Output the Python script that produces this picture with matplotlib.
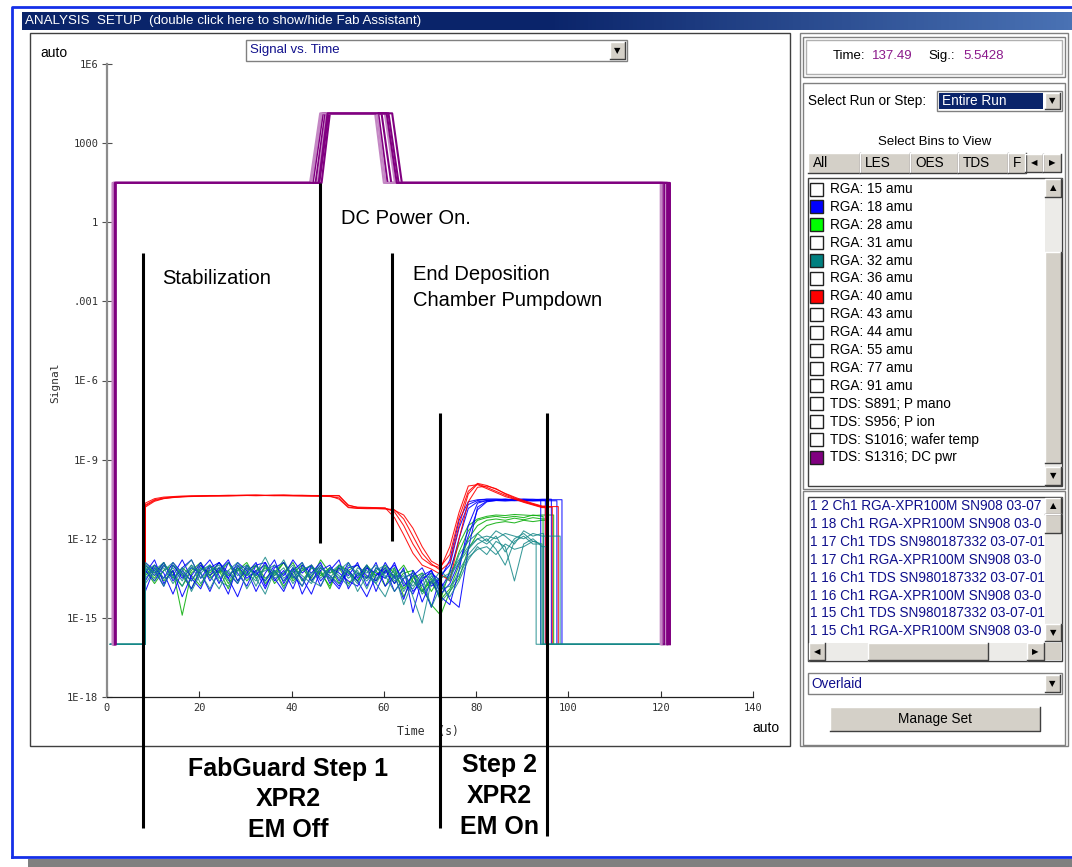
import numpy as np
import matplotlib
matplotlib.use('Agg')
import matplotlib.pyplot as plt
from matplotlib.patches import Rectangle
from matplotlib.lines import Line2D
from matplotlib.colors import LinearSegmentedColormap
from matplotlib.ticker import NullLocator
from matplotlib.transforms import blended_transform_factory

plt.rcParams['font.family'] = ['Liberation Sans', 'DejaVu Sans']

# ---------------- data: log10(signal), one sample every 2 s ----------------
time_s = np.arange(8.3, 95, 2.0)          # 8.3 ... 94.3 s (44 samples)
floor_log = -16.0                         # value plotted when a bin has no data

# RGA 40 amu (red)
red_1 = [-10.72, -10.52, -10.45, -10.42, -10.40, -10.39, -10.38, -10.38, -10.37, -10.37, -10.36,
         -10.36, -10.35, -10.36, -10.36, -10.35, -10.36, -10.36, -10.37, -10.37, -10.37, -10.38,
         -10.72, -10.82, -10.83, -10.83, -10.84, -10.98, -11.50, -12.20, -12.75, -13.00, -13.10,
         -12.30, -11.00, -10.00, -9.95, -10.10, -10.25, -10.40, -10.50, -10.62, -10.72, -10.82]
red_2 = [-10.80, -10.58, -10.48, -10.44, -10.41, -10.40, -10.39, -10.38, -10.38, -10.37, -10.37,
         -10.36, -10.37, -10.36, -10.37, -10.36, -10.37, -10.38, -10.38, -10.39, -10.40, -10.45,
         -10.80, -10.84, -10.84, -10.85, -10.86, -10.90, -11.25, -11.90, -12.55, -12.95, -13.20,
         -12.90, -11.50, -10.30, -9.92, -10.05, -10.20, -10.35, -10.48, -10.60, -10.70, -10.80]
red_3 = [-10.65, -10.48, -10.42, -10.40, -10.38, -10.37, -10.37, -10.36, -10.36, -10.35, -10.35,
         -10.34, -10.34, -10.35, -10.34, -10.34, -10.35, -10.35, -10.36, -10.36, -10.36, -10.36,
         -10.74, -10.80, -10.81, -10.82, -10.83, -11.20, -11.85, -12.55, -13.00, -13.15, -13.35,
         -13.60, -12.00, -10.60, -10.05, -10.00, -10.10, -10.30, -10.45, -10.58, -10.68, -10.78]
red_4 = [-10.75, -10.55, -10.47, -10.43, -10.41, -10.39, -10.38, -10.37, -10.37, -10.37, -10.36,
         -10.36, -10.36, -10.36, -10.36, -10.37, -10.37, -10.37, -10.38, -10.38, -10.38, -10.50,
         -10.82, -10.85, -10.86, -10.86, -10.87, -10.92, -11.10, -11.60, -12.30, -12.85, -13.05,
         -12.60, -11.20, -10.20, -9.90, -9.98, -10.12, -10.28, -10.42, -10.55, -10.66, -10.76]
red_runs = [red_1, red_2, red_3, red_4]
red_end = [95.5, 96.5, 97.8, 95.0]

# RGA 18 amu (blue)
blue_1 = [-13.0, -13.4, -12.9, -13.6, -13.1, -12.8, -13.5, -13.0, -13.7, -12.9, -13.3,
          -13.8, -13.0, -12.9, -13.6, -13.2, -13.9, -13.0, -13.3, -12.9, -13.7, -13.1,
          -13.4, -12.9, -13.8, -13.1, -13.3, -13.0, -13.6, -14.1, -13.4, -13.2, -13.9,
          -13.3, -12.0, -10.85, -10.6, -10.55, -10.55, -10.52, -10.55, -10.53, -10.55, -10.56]
blue_2 = [-13.3, -12.8, -13.7, -13.2, -14.2, -13.4, -12.9, -13.6, -13.1, -13.5, -12.9,
          -13.2, -14.0, -13.3, -12.8, -13.7, -13.1, -13.5, -14.1, -13.2, -13.0, -13.6,
          -12.9, -13.5, -13.0, -14.0, -13.2, -13.7, -13.1, -14.8, -13.5, -13.3, -13.6,
          -14.3, -14.6, -12.4, -10.8, -10.58, -10.55, -10.57, -10.54, -10.56, -10.55, -10.55]
blue_3 = [-14.0, -13.1, -13.5, -12.9, -13.3, -13.9, -13.2, -12.8, -13.4, -14.1, -13.0,
          -13.5, -13.2, -13.9, -13.1, -12.9, -13.4, -13.8, -13.0, -13.6, -13.2, -12.8,
          -13.9, -13.3, -13.5, -12.9, -13.8, -13.4, -14.3, -13.2, -13.7, -14.6, -13.4,
          -13.0, -11.6, -10.7, -10.55, -10.5, -10.5, -10.52, -10.5, -10.5, -10.52, -10.5]
blue_4 = [-13.2, -13.6, -13.0, -13.4, -12.8, -13.5, -13.9, -13.1, -12.9, -13.3, -13.7,
          -13.0, -13.4, -12.9, -13.5, -14.0, -13.2, -12.9, -13.6, -13.1, -13.4, -13.8,
          -13.1, -13.0, -13.4, -13.6, -12.9, -13.5, -13.2, -14.0, -13.6, -13.2, -14.1,
          -13.7, -12.9, -11.9, -10.9, -10.6, -10.55, -10.55, -10.56, -10.55, -10.57, -10.56]
blue_5 = [-12.9, -13.2, -13.8, -13.0, -13.5, -13.1, -13.3, -14.0, -13.2, -12.8, -13.6,
          -13.1, -13.3, -13.6, -13.0, -13.4, -12.8, -13.3, -13.0, -13.8, -13.1, -13.3,
          -13.6, -13.8, -13.1, -13.3, -13.5, -12.9, -13.8, -13.4, -13.1, -13.8, -13.5,
          -12.8, -11.3, -10.6, -10.52, -10.5, -10.5, -10.5, -10.52, -10.5, -10.5, -10.52]
blue_6 = [-13.6, -13.0, -13.3, -14.1, -13.2, -13.6, -13.0, -13.4, -12.9, -13.5, -14.2,
          -13.3, -12.9, -13.8, -13.2, -13.6, -13.1, -14.1, -13.4, -13.0, -13.5, -13.9,
          -13.2, -13.6, -14.2, -13.4, -13.1, -14.0, -13.5, -13.3, -14.4, -13.6, -14.2,
          -14.5, -13.2, -11.5, -10.65, -10.55, -10.53, -10.5, -10.53, -10.52, -10.54, -10.53]
blue_runs = [blue_1, blue_2, blue_3, blue_4, blue_5, blue_6]
blue_end = [94.0, 95.0, 96.3, 97.5, 98.6, 95.6]

# RGA 28 amu (green)
green_1 = [-13.1, -13.5, -13.0, -13.3, -13.8, -13.2, -12.9, -13.4, -13.1, -13.7, -13.2,
           -12.9, -13.5, -13.1, -13.4, -12.9, -13.6, -13.2, -13.0, -13.4, -13.1, -13.7,
           -13.2, -13.0, -13.5, -13.2, -13.8, -13.1, -14.2, -13.5, -13.3, -14.0, -13.4,
           -13.5, -12.5, -11.7, -11.3, -11.2, -11.15, -11.2, -11.15, -11.2, -11.1, -11.15]
green_2 = [-13.4, -13.0, -13.6, -13.2, -14.9, -13.3, -13.0, -13.5, -13.2, -13.9, -13.1,
           -13.4, -13.0, -13.7, -13.3, -12.9, -13.5, -13.1, -13.6, -13.2, -13.9, -13.0,
           -13.3, -13.6, -13.1, -13.4, -13.0, -13.3, -13.9, -13.4, -14.0, -13.5, -14.3,
           -13.9, -13.0, -12.0, -11.5, -11.3, -11.25, -11.3, -11.22, -11.28, -11.2, -11.25]
green_3 = [-13.0, -13.3, -12.9, -13.5, -13.1, -13.4, -13.8, -13.0, -13.3, -12.9, -13.6,
           -13.2, -13.0, -13.5, -13.2, -13.8, -13.3, -13.0, -13.5, -12.8, -13.3, -13.1,
           -13.7, -13.4, -13.0, -13.6, -13.2, -13.4, -13.0, -13.6, -14.0, -13.6, -14.3,
           -13.2, -12.2, -11.5, -11.25, -11.15, -11.1, -11.12, -11.08, -11.1, -11.12, -11.1]
green_4 = [-13.2, -13.7, -13.2, -13.0, -13.4, -13.9, -13.1, -13.3, -12.9, -13.4, -13.1,
           -13.6, -13.2, -13.0, -13.7, -13.3, -12.9, -13.6, -13.1, -13.3, -13.8, -13.0,
           -13.2, -13.6, -13.0, -13.4, -13.1, -13.7, -13.3, -13.2, -13.9, -14.5, -14.9,
           -14.0, -13.5, -12.4, -11.8, -11.5, -11.4, -11.35, -11.4, -11.3, -11.35, -11.3]
green_runs = [green_1, green_2, green_3, green_4]
green_end = [94.5, 95.5, 96.8, 95.2]

# RGA 32 amu (teal)
teal_1 = [-13.2, -13.0, -13.5, -13.1, -13.6, -13.0, -13.3, -13.9, -13.2, -12.9, -13.4,
          -13.1, -13.8, -13.0, -13.3, -12.8, -13.5, -13.1, -13.4, -13.0, -13.6, -13.2,
          -12.9, -13.4, -13.2, -13.7, -13.1, -13.5, -13.2, -14.2, -15.2, -13.6, -13.5,
          -13.3, -12.8, -12.3, -12.0, -12.2, -11.9, -12.5, -12.0, -11.8, -12.1, -11.9]
teal_2 = [-13.0, -13.4, -13.1, -13.7, -13.2, -12.8, -13.5, -13.2, -13.0, -13.6, -13.1,
          -13.9, -13.3, -12.7, -13.4, -13.1, -13.7, -13.2, -13.0, -13.5, -13.1, -13.4,
          -13.8, -13.1, -13.3, -13.0, -13.5, -13.2, -14.0, -13.4, -13.8, -13.3, -14.4,
          -14.0, -13.2, -12.6, -12.2, -12.0, -12.4, -13.0, -12.1, -11.9, -12.2, -12.0]
teal_3 = [-13.5, -13.1, -13.8, -13.0, -13.3, -13.6, -13.1, -13.4, -13.9, -13.2, -12.9,
          -13.4, -13.0, -13.6, -13.2, -13.9, -13.1, -13.4, -13.7, -13.1, -13.3, -13.0,
          -13.5, -13.2, -13.9, -13.1, -13.4, -14.0, -13.5, -13.3, -14.1, -13.7, -13.2,
          -13.6, -12.6, -12.1, -11.8, -12.1, -11.7, -11.9, -12.2, -11.7, -11.9, -11.8]
teal_4 = [-12.9, -13.3, -13.0, -13.4, -13.8, -13.1, -13.2, -13.0, -13.5, -13.2, -13.7,
          -13.0, -13.4, -13.2, -13.0, -13.5, -13.2, -13.8, -13.1, -13.3, -13.5, -13.0,
          -13.3, -13.7, -13.0, -13.5, -13.3, -13.1, -13.7, -13.9, -13.4, -14.6, -13.8,
          -14.2, -13.6, -12.8, -12.3, -12.6, -12.1, -12.3, -13.6, -12.2, -12.0, -12.3]
teal_5 = [-13.1, -13.6, -13.2, -12.9, -13.4, -13.0, -13.7, -13.2, -13.1, -13.4, -13.0,
          -13.3, -13.6, -13.0, -13.5, -13.3, -13.0, -13.6, -13.3, -13.1, -13.4, -13.7,
          -13.0, -13.3, -13.6, -13.2, -13.0, -13.6, -13.4, -13.8, -13.3, -13.5, -14.0,
          -13.4, -12.9, -12.4, -12.0, -11.9, -12.0, -11.8, -11.9, -12.0, -11.8, -11.9]
teal_6 = [-13.7, -13.2, -12.9, -13.5, -13.1, -14.0, -13.3, -13.0, -13.6, -13.8, -13.2,
          -13.0, -13.5, -14.1, -13.2, -13.6, -13.4, -12.9, -13.6, -13.8, -13.1, -13.5,
          -13.2, -14.0, -13.4, -13.7, -14.2, -13.3, -14.5, -13.6, -14.0, -13.4, -13.9,
          -13.8, -13.4, -12.7, -12.4, -12.3, -12.6, -12.2, -12.4, -12.3, -12.1, -12.2]
teal_runs = [teal_1, teal_2, teal_3, teal_4, teal_5, teal_6]
teal_end = [93.0, 94.0, 94.6, 95.2, 98.2, 94.3]
teal_span = (0.7, 122.0)

# TDS S1316 DC power (purple), event times per run in s
dc_base, dc_peak = 31.0, 13500.0
dc_on = [1.2, 1.4, 1.5, 1.6, 1.8, 1.9, 1.3, 1.7]
ramp_up_start = [44.0, 44.6, 45.2, 45.6, 46.0, 46.5, 44.3, 45.9]
ramp_up_end = [46.2, 46.8, 47.3, 47.6, 48.0, 48.3, 46.5, 47.8]
ramp_down_start = [58.1, 58.8, 59.5, 60.2, 61.0, 61.8, 58.5, 60.6]
ramp_down_end = [60.0, 60.8, 61.6, 62.4, 63.2, 63.9, 60.4, 62.8]
dc_off = [120.0, 120.4, 120.8, 121.2, 121.6, 122.0, 120.2, 121.4]

# axis ticks
y_ticks = [1e-18, 1e-15, 1e-12, 1e-9, 1e-6, 1e-3, 1, 1e3, 1e6]
y_tick_labels = ['1E-18', '1E-15', '1E-12', '1E-9', '1E-6', '.001', '1', '1000', '1E6']
x_ticks = [0, 20, 40, 60, 80, 100, 120, 140]
x_tick_labels = ['0', '20', '40', '60', '80', '100', '120', '140']

# step annotations (time of marker line in s)
step_marks = [7.8, 46.2, 61.8, 72.2, 95.4]

# side panel contents (run names as far as the list shows them)
bins = ['RGA: 15 amu', 'RGA: 18 amu', 'RGA: 28 amu', 'RGA: 31 amu', 'RGA: 32 amu',
        'RGA: 36 amu', 'RGA: 40 amu', 'RGA: 43 amu', 'RGA: 44 amu', 'RGA: 55 amu',
        'RGA: 77 amu', 'RGA: 91 amu', 'TDS: S891; P mano', 'TDS: S956; P ion',
        'TDS: S1016; wafer temp', 'TDS: S1316; DC pwr']
bin_colors = ['white', '#0000ff', '#00ff00', 'white', '#008080', 'white', '#ff0000', 'white',
              'white', 'white', 'white', 'white', 'white', 'white', 'white', '#800080']
runs = ['1 2 Ch1 RGA-XPR100M SN908 03-07', '1 18 Ch1 RGA-XPR100M SN908 03-0',
        '1 17 Ch1 TDS SN980187332 03-07-01', '1 17 Ch1 RGA-XPR100M SN908 03-0',
        '1 16 Ch1 TDS SN980187332 03-07-01', '1 16 Ch1 RGA-XPR100M SN908 03-0',
        '1 15 Ch1 TDS SN980187332 03-07-01', '1 15 Ch1 RGA-XPR100M SN908 03-0']
tabs = ['All', 'LES', 'OES', 'TDS', 'F']


def run_path(logs, t_end, span=None):
    v = np.array(logs, dtype=float)
    keep = time_s <= t_end
    t = np.r_[time_s[0], time_s[keep], t_end, t_end]
    y = np.r_[floor_log, v[keep], v[keep][-1], floor_log]
    if span is not None:
        t = np.r_[span[0], t, span[1]]
        y = np.r_[floor_log, y, floor_log]
    return t, 10.0 ** y


fig = plt.figure(figsize=(10.72, 8.67), dpi=100)
ui = fig.add_axes([0, 0, 1, 1], zorder=0)
ui.axis('off')
ax = fig.add_axes([107 / 1072, 1 - 697 / 867, 646 / 1072, 633 / 867], zorder=1)
ax.patch.set_alpha(0)
top = fig.add_axes([0, 0, 1, 1], zorder=2)
top.axis('off')
top.patch.set_alpha(0)

FACE = '#d4d0c8'


def rect(x0, y0, x1, y1, fc='none', ec='#808080', lw=1.0, z=1):
    ui.add_patch(Rectangle((x0, y0), x1 - x0, y1 - y0, facecolor=fc, edgecolor=ec,
                           linewidth=lw, zorder=z))


def bevel(x0, y0, x1, y1, ch=None, z=2):
    rect(x0, y0, x1, y1, fc=FACE, ec='none', z=z)
    ui.plot([x0, x0, x1], [y1, y0, y0], color='white', lw=1, zorder=z + 0.1)
    ui.plot([x0, x1, x1], [y1, y1, y0], color='#404040', lw=1, zorder=z + 0.1)
    if ch:
        ui.text((x0 + x1) / 2, (y0 + y1) / 2, ch, fontsize=6, ha='center', va='center',
                family='DejaVu Sans', zorder=z + 0.2)


def label(x, y, s, size=9.8, color='black', **kw):
    return ui.text(x, y, s, fontsize=size, color=color, va='center', zorder=4, **kw)


# ---------------- window chrome ----------------
grad = np.linspace(0, 1, 256)[None, :]
cmap_tb = LinearSegmentedColormap.from_list('tb', ['#0a246a', '#0a246a', '#4a72b4'])
ui.imshow(grad, extent=(22, 1072, 30, 12), aspect='auto', cmap=cmap_tb, zorder=1)
label(25, 21, 'ANALYSIS  SETUP  (double click here to show/hide Fab Assistant)',
      size=9.6, color='white')
ui.plot([12, 12, 1072], [857, 7, 7], color='#1530e8', lw=2, zorder=3)
ui.plot([12, 1072], [857, 857], color='#1530e8', lw=2, zorder=3)
rect(28, 859, 1072, 867, fc='#808080', ec='none')

# left panel
rect(30, 33, 790, 746, fc='white', ec='#404040')
label(40, 53, 'auto', size=10)
label(752, 728, 'auto', size=10)
rect(246, 40, 627, 61, fc='white', ec='#808080')
bevel(610, 42, 625, 59, '▼')
label(250, 50.5, 'Signal vs. Time', size=9.5, color='#10108c')

# right panel
rect(800, 33, 1068, 746, fc='white', ec='#808080')
rect(803, 37, 1065, 77, ec='#808080')
rect(806, 40, 1062, 74, ec='#b0b0b0')
label(833, 56, 'Time:', size=9.5)
label(872, 56, '137.49', size=9.5, color='#8b1a8b')
label(928, 56, 'Sig.:', size=9.5)
label(963, 56, '5.5428', size=9.5, color='#8b1a8b')

rect(803, 83, 1065, 489, ec='#808080')
label(808, 101, 'Select Run or Step:')
rect(937, 91, 1062, 111, fc='white', ec='#808080')
rect(939, 93, 1043, 109, fc='#0a246a', ec='none', z=2)
label(942, 101, 'Entire Run', color='white')
bevel(1045, 93, 1060, 109, '▼')
label(935, 142, 'Select Bins to View', size=9.5, ha='center')

tab_edges = [808, 860, 910, 958, 1008, 1026]
for name, x0, x1 in zip(tabs, tab_edges[:-1], tab_edges[1:]):
    bevel(x0, 153, x1, 173)
    label(x0 + 5, 163, name, size=9.8)
bevel(1025, 154, 1043, 172, '◀')
bevel(1043, 154, 1061, 172, '▶')

rect(808, 178, 1062, 486, fc='white', ec='#404040')
rect(1045, 179, 1061, 485, fc='#ecebe8', ec='none', z=1.5)
bevel(1045, 179, 1061, 197, '▲')
bevel(1045, 252, 1061, 463)
bevel(1045, 467, 1061, 485, '▼')
for i, (name, col) in enumerate(zip(bins, bin_colors)):
    yy = 189 + i * 17.9
    rect(810, yy - 6.5, 823, yy + 6.5, fc=col, ec='#202020', z=2)
    label(830, yy, name)

rect(803, 491, 1065, 745, ec='#808080')
rect(808, 497, 1062, 661, fc='white', ec='#404040')
for i, name in enumerate(runs):
    label(810, 506 + i * 17.9, name, color='#10108c')
rect(1045, 498, 1061, 642, fc='#ecebe8', ec='none', z=1.5)
bevel(1045, 498, 1061, 514, '▲')
bevel(1045, 514, 1061, 533)
bevel(1045, 624, 1061, 641, '▼')
rect(809, 643, 1044, 660, fc='#ecebe8', ec='none', z=1.5)
bevel(809, 643, 825, 660, '◀')
bevel(868, 643, 988, 660)
bevel(1027, 643, 1044, 660, '▶')
rect(1045, 643, 1061, 660, fc=FACE, ec='none')

rect(808, 673, 1062, 694, fc='white', ec='#808080')
label(811, 683.5, 'Overlaid', color='#10108c')
bevel(1045, 675, 1060, 692, '▼')
bevel(830, 707, 1040, 731)
label(935, 719, 'Manage Set', ha='center')

ui.set_xlim(0, 1072)
ui.set_ylim(867, 0)

# ---------------- signal traces ----------------
lw = 0.75
for vals, te in zip(green_runs, green_end):
    t, v = run_path(vals, te)
    ax.plot(t, v, color='#10b010', lw=lw, alpha=0.9)
for vals, te in zip(blue_runs, blue_end):
    t, v = run_path(vals, te)
    ax.plot(t, v, color='#0000ff', lw=lw, alpha=0.9)
for vals, te in zip(red_runs, red_end):
    t, v = run_path(vals, te)
    ax.plot(t, v, color='#ff0000', lw=lw, alpha=0.9)
for vals, te in zip(teal_runs, teal_end):
    t, v = run_path(vals, te, span=teal_span)
    ax.plot(t, v, color='#168888', lw=lw, alpha=0.85)

floor = 10.0 ** floor_log
for k in range(len(dc_on)):
    t = [dc_on[k], dc_on[k], ramp_up_start[k], ramp_up_end[k], ramp_down_start[k],
         ramp_down_end[k], dc_off[k], dc_off[k]]
    v = [floor, dc_base, dc_base, dc_peak, dc_peak, dc_base, dc_base, floor]
    ax.plot(t, v, color='#800080' if k % 3 else '#c487c4', lw=1.5)

ax.set_yscale('log')
ax.set_xlim(0, 140)
ax.set_ylim(1e-18, 1e6)
ax.spines['top'].set_visible(False)
ax.spines['right'].set_visible(False)
ax.spines['left'].set_color('#8c8c8c')
ax.spines['left'].set_linewidth(1.6)
ax.spines['bottom'].set_color('#202020')
ax.spines['bottom'].set_linewidth(0.9)
ax.set_yticks(y_ticks, y_tick_labels)
ax.set_xticks(x_ticks, x_tick_labels)
ax.yaxis.set_minor_locator(NullLocator())
ax.tick_params(axis='y', direction='inout', length=6.5, width=0.8, color='#505050',
               pad=3, labelsize=7.5, labelcolor='#303030')
ax.tick_params(axis='x', direction='in', length=4.5, width=0.8, color='#303030',
               pad=4, labelsize=7.5, labelcolor='#303030')
for lab in ax.get_xticklabels() + ax.get_yticklabels():
    lab.set_family('DejaVu Sans Mono')
ax.set_ylabel('Signal', family='DejaVu Sans Mono', fontsize=8, color='#303030')
ax.yaxis.set_label_coords(-0.072, 0.496)
ax.set_xlabel('Time  (s)', family='DejaVu Sans Mono', fontsize=8.3, color='#303030')
ax.xaxis.set_label_coords(0.497, -0.044)

# ---------------- annotations ----------------
top.set_xlim(0, 1072)
top.set_ylim(867, 0)
bt = blended_transform_factory(ax.transData, top.transData)
mark_spans = [(253, 828), (183, 543), (253, 541), (413, 828), (413, 836)]
for tm, (y0, y1) in zip(step_marks, mark_spans):
    top.add_line(Line2D([tm, tm], [y0, y1], transform=bt, color='black', lw=2.2,
                        solid_capstyle='butt'))

for x, y, s in [(162, 278, 'Stabilization'), (341, 218, 'DC Power On.'),
                (413, 275, 'End Deposition'), (413, 300, 'Chamber Pumpdown')]:
    top.text(x, y, s, fontsize=14.5, va='center', ha='left')
for y, s in [(769, 'FabGuard Step 1'), (799, 'XPR2'), (830, 'EM Off')]:
    top.text(288, y, s, fontsize=18, fontweight='bold', ha='center', va='center')
for y, s in [(765, 'Step 2'), (796, 'XPR2'), (827, 'EM On')]:
    top.text(499, y, s, fontsize=18, fontweight='bold', ha='center', va='center')
top.set_xlim(0, 1072)
top.set_ylim(867, 0)

fig.savefig('out.png', dpi=100)
